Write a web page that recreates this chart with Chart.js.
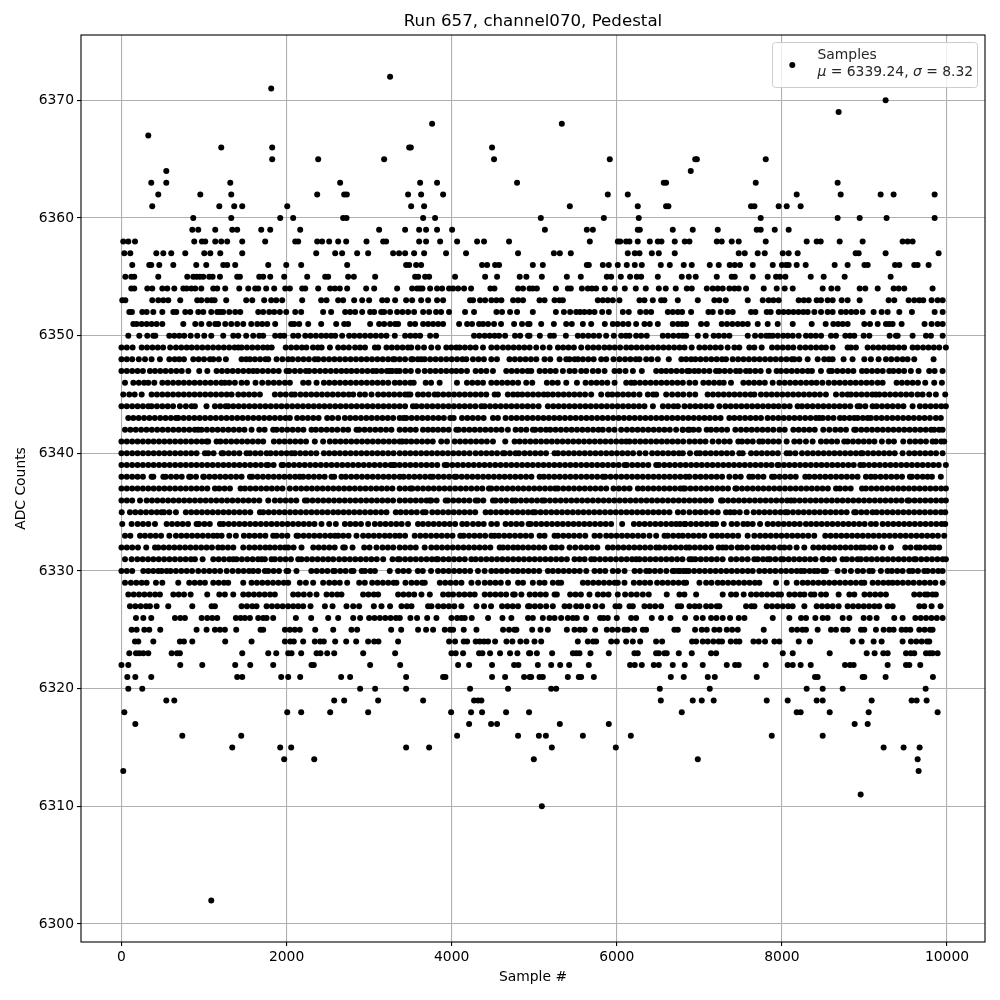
<!DOCTYPE html>
<html><head><meta charset="utf-8">
<style>html,body{margin:0;padding:0;background:#fff}canvas{display:block}</style>
<script src="https://cdn.jsdelivr.net/npm/chart.js@4"></script>
</head><body><canvas id="c" width="1000" height="1000"></canvas>
<script>
const xTicks=[0,2000,4000,6000,8000,10000];
const yTicks=[6300,6310,6320,6330,6340,6350,6360,6370];
const legendLines=["Samples","μ = 6339.24, σ = 8.32"];
const adc6372=[3254];
const adc6371=[1814];
const adc6370=[9256];
const adc6369=[8687];
const adc6368=[3763,5334];
const adc6367=[325];
const adc6366=[1209,1826,3485,3505,4489];
const adc6365=[1826,2383,3182,4513,5915,6950,6970,7804];
const adc6364=[543,6896];
const adc6363=[361,543,1318,2649,3618,3823,4792,6569,6597,7683,8675];
const adc6362=[446,955,1330,2371,2698,2730,3472,3630,3896,5891,6133,8179,8712,9196,9353,9850];
const adc6361=[373,1185,1366,1463,2008,3509,3666,5431,6254,6597,6625,7626,7667,7961,8058,8227];
const adc6360=[870,1330,1923,2080,2685,2726,3654,3799,5080,5843,6266,7743,8675,8942,9268,9850];
const adc6359=[858,930,1136,1342,1402,1693,1802,2165,3121,3436,3606,3690,3823,4005,5129,5637,5710,6254,6279,6678,6920,7223,7695,7743,7913,8082];
const adc6358=[22,83,164,882,975,1015,1136,1209,1281,1463,1741,2105,2141,2371,2431,2516,2625,2722,2968,3170,3206,3606,3690,3860,4066,4308,4392,4695,5673,6012,6041,6113,6153,6254,6400,6497,6541,6702,6823,6880,7211,7271,7392,7477,7804,8300,8421,8470,8700,8978,9462,9523,9583];
const adc6357=[35,107,422,507,603,773,1003,1076,1197,1463,2359,2589,2673,2855,2988,3291,3363,3436,3545,3666,3932,4174,4804,5238,5310,5443,6133,6218,6275,6424,6509,6702,7477,7550,7707,7792,8010,8082,8191,8893,8930,9256,9898];
const adc6356=[131,337,361,458,628,906,1027,1233,1281,1378,1778,1996,2177,2734,3448,3485,3569,3630,4368,4429,4526,4574,4983,5104,5637,5661,5831,5903,6012,6121,6218,6303,6533,6642,6811,6908,7126,7235,7368,7429,7493,7647,7889,8000,8050,8082,8179,8288,8639,8796,9000,9039,9370,9422,9603,9644,9777];
const adc6355=[47,119,155,446,797,870,910,950,991,1063,1104,1193,1402,1435,1669,1717,1802,1971,2250,2468,2504,2746,2815,3073,3557,3594,3678,3727,4041,4405,4550,4824,4905,5092,5395,5564,5879,5932,6049,6161,6242,6295,6497,6787,6872,6956,7211,7392,7429,7647,7828,7929,7977,8042,8349,8506,8760,9317];
const adc6354=[119,155,313,373,495,555,640,749,789,846,894,967,1112,1160,1257,1427,1536,1620,1657,1753,1850,1983,2040,2189,2226,2383,2528,2585,2645,2734,2964,3061,3339,3521,3581,3614,3646,3739,3823,3884,3968,4017,4078,4150,4235,4469,4518,4804,4864,4943,4983,5032,5262,5407,5443,5577,5649,5698,5750,5855,5976,6097,6230,6351,6509,6593,6714,6848,6908,7090,7162,7223,7283,7364,7425,7477,7566,7780,7937,8034,8131,8494,8599,8675,8942,9010,9160,9353,9414,9482,9825];
const adc6353=[10,47,373,446,507,567,712,918,967,1039,1092,1128,1269,1511,1584,1729,1814,1875,1947,2189,2419,2484,2625,2685,2819,2916,3000,3158,3218,3315,3448,3521,3630,3715,3823,3896,4223,4259,4344,4405,4481,4542,4602,4744,4804,4864,5064,5125,5246,5306,5347,5770,5831,5891,5952,6032,6275,6335,6436,6537,6577,6739,6981,7182,7243,7320,7586,7768,7840,7897,7961,8203,8265,8324,8421,8474,8554,8615,8724,8796,8942,9293,9361,9535,9603,9664,9712,9813,9886,9947];
const adc6352=[95,127,252,305,386,495,628,664,773,834,930,991,1088,1160,1197,1233,1306,1378,1439,1657,1717,1790,1850,1919,1996,2105,2177,2443,2540,2710,2770,2831,2916,3012,3061,3146,3182,3254,3339,3404,3472,3545,3654,3727,3811,3872,3968,4162,4271,4542,4610,4707,4792,4983,5262,5359,5435,5508,5556,5609,5669,5730,5823,5903,6073,6145,6283,6355,6416,6618,6678,6739,6791,6900,7110,7162,7259,7344,7404,7626,7679,7816,7864,7961,8020,8080,8140,8200,8260,8312,8393,8474,8554,8615,8716,8776,8840,8900,8978,9111,9208,9281,9422,9575,9850,9947];
const adc6351=[144,184,244,305,365,426,495,749,894,967,1063,1136,1172,1257,1330,1402,1475,1572,1645,1705,1766,1862,2056,2093,2153,2262,2419,2601,2698,2746,3012,3121,3182,3254,3315,3351,3497,3557,3654,3715,3775,3836,3896,4090,4187,4247,4332,4380,4441,4513,4598,4756,4852,4925,4943,5084,5238,5387,5455,5589,5690,5855,5952,6010,6075,6140,6234,6335,6400,6497,6678,6740,6790,6840,7021,7090,7271,7335,7400,7465,7525,7586,7707,7828,7949,8131,8361,8530,8623,8680,8736,8796,8998,9067,9160,9260,9300,9341,9450,9728,9813,9886,9947];
const adc6350=[83,216,313,386,410,579,640,700,760,838,918,1003,1088,1233,1354,1415,1511,1596,1669,1717,1862,1923,1971,2080,2141,2226,2290,2355,2420,2480,2540,2589,2673,2758,2820,2885,2950,3015,3080,3145,3210,3311,3436,3500,3560,3618,3739,3811,4271,4335,4400,4460,4520,4574,4647,4767,4830,4925,4943,5068,5193,5238,5383,5528,5590,5655,5720,5785,5871,5964,6053,6110,6153,6234,6295,6363,6557,6620,6685,6750,6800,6840,6981,7077,7174,7235,7300,7364,7586,7675,7747,7810,7848,7889,7950,8015,8070,8131,8203,8292,8350,8410,8474,8595,8655,8768,8825,8877,8990,9059,9305,9381,9402,9583,9745,9805,9947];
const adc6349=[0,65,135,245,310,375,440,505,590,660,725,790,850,915,980,1045,1110,1175,1240,1305,1370,1415,1455,1520,1585,1650,1715,1770,1820,1990,2055,2120,2185,2240,2320,2380,2425,2525,2625,2690,2755,2830,2890,2950,3070,3110,3210,3275,3340,3405,3470,3510,3590,3665,3753,3834,3935,3995,4056,4096,4160,4225,4290,4379,4480,4548,4621,4685,4750,4815,4880,4945,5024,5105,5186,5287,5350,5415,5480,5569,5650,5715,5780,5850,5912,5975,6040,6114,6175,6240,6305,6370,6435,6500,6565,6630,6695,6760,6820,6907,7000,7065,7130,7195,7260,7343,7424,7484,7605,7666,7755,7880,7945,8010,8075,8138,8219,8285,8350,8415,8480,8533,8614,8796,8836,8897,9038,9105,9170,9235,9300,9350,9415,9480,9583,9643,9710,9775,9840,9905,9986];
const adc6348=[0,65,130,210,285,365,466,580,645,700,757,870,935,1000,1072,1112,1180,1265,1455,1510,1556,1616,1680,1745,1778,1879,1950,2020,2072,2140,2205,2270,2342,2383,2450,2515,2580,2645,2710,2775,2840,2905,2970,3035,3100,3165,3230,3290,3310,3370,3435,3510,3530,3590,3632,3673,3740,3805,3870,3935,4000,4065,4130,4177,4258,4325,4390,4480,4548,4700,4765,4830,4895,4960,5025,5125,5194,5307,5388,5428,5490,5530,5590,5655,5720,5811,5872,5960,6033,6100,6165,6230,6275,6356,6420,6497,6630,6782,6840,6900,6952,7015,7080,7145,7210,7275,7323,7404,7470,7535,7600,7665,7730,7795,7860,7925,7990,8055,8120,8150,8210,8312,8433,8513,8570,8614,8747,8856,8998,9078,9171,9260,9325,9395,9462,9522,9603,9837];
const adc6347=[0,65,130,195,260,345,406,470,535,600,665,730,810,942,1040,1152,1217,1282,1347,1412,1477,1542,1596,1645,1710,1775,1840,1905,2000,2032,2100,2165,2234,2274,2340,2405,2470,2535,2600,2665,2726,2786,2850,2915,2980,3045,3089,3150,3215,3280,3370,3249,3330,3440,3505,3592,3673,3740,3805,3870,3935,4000,4056,4116,4185,4290,4355,4420,4500,4661,4726,4791,4856,4921,4964,5065,5130,5195,5260,5347,5428,5490,5569,5630,5710,5775,5852,5972,6033,6106,6195,6303,6477,6540,6598,6659,6724,6789,6854,6880,6940,6992,7057,7122,7202,7242,7307,7372,7444,7492,7565,7613,7678,7743,7840,7936,7989,8054,8119,8184,8249,8314,8364,8473,8574,8606,8671,8736,8801,8866,8970,9026,9091,9156,9221,9300,9350,9415,9480,9562,9655,9784,9850,9946];
const adc6346=[43,144,210,275,325,398,495,560,625,690,755,820,885,950,1015,1080,1145,1210,1253,1306,1374,1455,1520,1624,1705,1778,1845,1910,1980,2040,2201,2266,2363,2452,2517,2582,2647,2712,2777,2842,2907,2972,3037,3102,3167,3232,3311,3370,3435,3500,3540,3685,3750,3854,4064,4185,4250,4315,4379,4480,4545,4610,4675,4740,4805,4903,4976,5153,5220,5285,5388,5517,5622,5690,5755,5820,5885,5973,6114,6174,6215,6280,6345,6410,6475,6540,6605,6670,6735,6800,6880,6950,7048,7113,7178,7243,7295,7383,7533,7598,7663,7728,7793,7888,7969,8034,8099,8164,8229,8294,8359,8420,8490,8566,8634,8699,8764,8829,8894,8959,9024,9089,9160,9220,9389,9453,9518,9583,9648,9736,9845,9938];
const adc6345=[22,95,160,245,365,430,495,560,625,690,755,820,885,950,1015,1080,1145,1210,1275,1334,1415,1480,1545,1610,1677,1858,1925,1990,2060,2100,2169,2234,2299,2364,2429,2494,2559,2624,2689,2754,2807,2887,2950,3029,3109,3174,3239,3304,3370,3435,3470,3500,3592,3653,3720,3794,3834,3899,3964,4029,4094,4159,4224,4289,4354,4419,4520,4560,4680,4745,4800,4855,4920,4985,5050,5115,5165,5226,5291,5356,5421,5486,5551,5616,5690,5811,5892,5945,6010,6075,6140,6205,6275,6376,6440,6477,6598,6670,6740,6805,6880,6950,7100,7165,7230,7295,7360,7425,7490,7555,7620,7666,7746,7811,7876,7941,8006,8071,8136,8201,8266,8331,8396,8461,8533,8655,8730,8796,8836,8900,8965,9030,9095,9138,9180,9245,9310,9375,9440,9505,9570,9643,9704,9784,9865,9978];
const adc6344=[0,65,130,195,260,325,365,430,495,560,625,708,780,850,890,1030,1132,1197,1262,1293,1354,1419,1484,1549,1614,1679,1744,1809,1874,1939,2004,2069,2134,2199,2264,2329,2394,2459,2524,2589,2654,2719,2784,2849,2914,2979,3044,3109,3174,3239,3304,3370,3435,3531,3572,3637,3702,3767,3832,3897,3962,4027,4092,4157,4222,4287,4359,4399,4464,4529,4594,4659,4724,4789,4854,4919,4984,5053,5165,5230,5295,5360,5425,5490,5555,5620,5685,5750,5815,5880,5945,6010,6075,6140,6205,6270,6335,6437,6558,6623,6688,6740,6820,6887,6952,7017,7082,7147,7242,7315,7380,7445,7510,7575,7640,7705,7770,7835,7900,7960,8029,8094,8190,8243,8308,8373,8438,8503,8568,8633,8698,8763,8828,8917,8945,9010,9098,9147,9212,9277,9342,9407,9472,9583,9671,9736,9801,9866,9931,9986];
const adc6343=[83,144,209,274,339,404,469,534,599,660,688,753,818,883,948,1013,1078,1143,1208,1273,1338,1403,1468,1533,1598,1663,1728,1793,1858,1923,1988,2040,2128,2193,2258,2323,2388,2492,2553,2625,2706,2771,2836,2901,2966,3031,3096,3161,3226,3291,3370,3418,3450,3515,3580,3645,3710,3775,3840,3905,3983,4024,4125,4190,4255,4320,4387,4500,4560,4653,4722,4787,4852,4917,4982,5047,5112,5177,5242,5307,5372,5437,5502,5567,5632,5697,5762,5827,5892,5957,6022,6087,6152,6217,6282,6347,6412,6477,6542,6607,6672,6737,6802,6867,6932,6997,7062,7127,7192,7257,7363,7424,7489,7554,7619,7684,7746,7827,7892,7957,8022,8087,8152,8217,8282,8347,8412,8453,8495,8560,8625,8703,8755,8820,8876,8917,8980,9038,9078,9143,9208,9273,9338,9403,9468,9533,9598,9663,9728,9793,9865,9925];
const adc6342=[43,108,173,238,303,368,433,498,563,628,693,758,823,888,930,970,1035,1100,1165,1230,1295,1360,1425,1490,1576,1669,1734,1838,1879,1944,2009,2074,2139,2204,2302,2355,2420,2485,2550,2615,2686,2746,2847,2880,2945,3010,3075,3140,3205,3270,3370,3435,3500,3565,3652,3713,3774,3834,3899,3964,4056,4084,4149,4214,4279,4344,4409,4474,4539,4604,4681,4774,4839,4904,4984,5012,5077,5142,5194,5258,5323,5388,5453,5518,5583,5648,5713,5778,5831,5904,5972,6053,6122,6187,6252,6317,6382,6447,6512,6577,6642,6719,6800,6880,6798,6863,6928,6993,7089,7141,7206,7271,7336,7436,7504,7569,7634,7699,7764,7829,7896,7969,8034,8138,8203,8268,8333,8398,8501,8574,8646,8711,8776,8876,8897,8962,9027,9092,9157,9222,9287,9352,9417,9482,9547,9612,9677,9742,9807,9845,9905,9946];
const adc6341=[0,65,130,195,260,325,390,455,520,585,650,715,780,845,910,975,1031,1051,1152,1200,1265,1330,1395,1460,1525,1590,1655,1717,1846,1911,1976,2041,2106,2171,2236,2342,2443,2524,2589,2654,2719,2784,2849,2914,2979,3044,3109,3174,3239,3304,3370,3402,3450,3511,3576,3641,3706,3771,3874,3943,4036,4101,4166,4231,4296,4361,4426,4500,4649,4762,4823,4888,4953,5018,5083,5148,5213,5278,5343,5408,5473,5538,5603,5668,5733,5798,5863,5928,5993,6058,6114,6154,6219,6284,6349,6414,6479,6544,6609,6674,6739,6804,6880,6945,7010,7075,7161,7234,7303,7368,7472,7517,7582,7647,7726,7767,7832,7897,7962,8057,8150,8215,8291,8372,8473,8538,8603,8668,8755,8796,8861,8926,8991,9056,9121,9211,9292,9357,9470,9550,9615,9680,9745,9825,9865,9930,9966];
const adc6340=[0,65,130,195,260,325,390,455,520,585,650,715,780,845,910,1011,1051,1116,1213,1233,1298,1363,1428,1515,1556,1621,1686,1758,1806,1871,1936,2001,2060,2100,2165,2230,2295,2360,2452,2516,2581,2646,2711,2776,2841,2906,2971,3036,3101,3166,3231,3296,3370,3435,3500,3565,3630,3695,3760,3825,3890,3955,4020,4085,4150,4217,4290,4355,4420,4485,4550,4621,4641,4706,4774,4815,4883,4948,5013,5078,5143,5246,5287,5352,5417,5482,5547,5612,5677,5742,5807,5872,5937,6002,6067,6132,6197,6275,6348,6428,6493,6558,6623,6688,6753,6800,6887,6968,7008,7073,7138,7203,7268,7333,7398,7484,7525,7626,7691,7756,7821,7886,7951,8057,8098,8163,8243,8311,8376,8441,8506,8571,8636,8701,8766,8831,8896,8957,8977,9042,9107,9172,9237,9302,9367,9462,9542,9607,9672,9737,9802,9867,9946];
const adc6339=[0,65,130,195,260,325,390,455,520,585,650,715,780,845,910,975,1040,1105,1170,1235,1300,1365,1430,1495,1560,1625,1690,1758,1778,1843,1940,1960,2025,2090,2155,2220,2285,2350,2415,2480,2545,2610,2675,2740,2805,2870,2935,3000,3065,3130,3195,3260,3290,3311,3370,3435,3500,3565,3630,3695,3760,3825,3915,3943,4008,4073,4138,4203,4268,4333,4398,4463,4528,4593,4658,4723,4788,4853,4918,4983,5048,5113,5178,5243,5308,5373,5438,5503,5568,5633,5698,5763,5828,5893,5958,6023,6094,6122,6187,6252,6317,6382,6477,6510,6575,6640,6705,6770,6835,6900,6965,7030,7095,7160,7225,7290,7355,7420,7485,7550,7615,7680,7745,7810,7875,7948,7960,8025,8090,8155,8220,8285,8350,8415,8480,8545,8610,8675,8740,8805,8870,8949,8990,9055,9120,9185,9250,9315,9380,9445,9510,9575,9640,9705,9770,9835,9900,9986];
const adc6338=[0,65,130,195,260,365,386,507,535,600,665,730,820,838,903,990,1000,1065,1130,1195,1260,1325,1390,1455,1556,1584,1649,1714,1779,1844,1909,1974,2039,2104,2160,2201,2266,2331,2396,2461,2544,2577,2665,2718,2783,2848,2913,2978,3043,3108,3173,3238,3303,3370,3418,3483,3548,3613,3678,3741,3774,3839,3904,3969,4036,4056,4121,4186,4251,4316,4381,4446,4511,4576,4641,4706,4771,4836,4901,4966,5065,5117,5178,5243,5308,5373,5438,5503,5568,5633,5698,5763,5831,5860,5925,5990,6055,6120,6185,6250,6315,6380,6445,6510,6575,6640,6705,6770,6835,6880,6950,7015,7080,7145,7210,7275,7363,7436,7501,7605,7646,7711,7776,7880,7908,7973,8038,8103,8168,8283,8331,8396,8461,8526,8591,8656,8721,8786,8851,8916,9018,9078,9130,9195,9260,9325,9390,9455,9550,9575,9640,9705,9764,9817,9925];
const adc6337=[0,65,130,195,260,325,390,455,520,585,650,715,780,845,910,975,1040,1132,1184,1249,1314,1443,1496,1561,1626,1691,1756,1821,1886,1951,2040,2112,2177,2242,2307,2372,2437,2502,2567,2632,2697,2762,2827,2892,2957,3022,3087,3152,3217,3282,3370,3435,3499,3523,3588,3653,3718,3783,3848,3913,3978,4043,4108,4173,4238,4306,4371,4451,4480,4545,4610,4675,4740,4805,4870,4935,5000,5065,5130,5195,5254,5287,5352,5417,5482,5547,5612,5677,5742,5807,5872,5960,6025,6090,6155,6255,6315,6380,6445,6510,6575,6640,6705,6770,6806,6827,6892,6957,7022,7087,7152,7217,7282,7347,7436,7452,7517,7582,7647,7712,7777,7842,7907,7972,8037,8102,8167,8232,8297,8362,8427,8492,8557,8655,8703,8768,8833,8970,9018,9083,9148,9213,9278,9343,9408,9473,9538,9603,9668,9733,9798,9863,9928,9986];
const adc6336=[0,65,130,225,305,370,435,500,565,630,695,760,825,890,955,1020,1085,1150,1215,1280,1345,1410,1475,1540,1605,1670,1778,1858,1923,1988,2053,2118,2222,2250,2315,2380,2445,2510,2575,2640,2705,2770,2835,2900,2965,3030,3095,3160,3225,3290,3370,3435,3500,3565,3630,3695,3733,3753,3818,3927,3955,4020,4085,4150,4215,4290,4318,4383,4500,4532,4597,4662,4734,4774,4839,4904,4969,5034,5097,5125,5190,5255,5320,5385,5450,5515,5580,5645,5710,5775,5840,5905,5970,6035,6100,6165,6230,6295,6360,6425,6490,6555,6620,6685,6750,6815,6880,6945,7010,7075,7140,7262,7283,7348,7413,7478,7543,7608,7673,7738,7803,7868,7933,7998,8063,8110,8150,8215,8280,8345,8410,8475,8540,8605,8670,8735,8800,8865,8930,8995,9060,9125,9190,9255,9320,9385,9450,9522,9542,9607,9672,9737,9802,9867,9932,9986];
const adc6335=[3,103,168,233,298,363,428,486,515,580,660,780,845,910,975,1040,1105,1170,1235,1300,1365,1430,1495,1560,1677,1717,1782,1847,1912,1977,2042,2107,2172,2237,2302,2367,2432,2497,2565,2625,2690,2755,2820,2885,2950,3015,3080,3145,3210,3323,3382,3447,3512,3577,3652,3685,3765,3830,3895,3960,4025,4090,4155,4220,4285,4411,4472,4537,4602,4667,4732,4797,4862,4927,4984,5012,5077,5142,5207,5272,5337,5402,5467,5532,5597,5662,5727,5792,5857,5922,5987,6052,6117,6182,6247,6312,6377,6442,6507,6572,6638,6740,6805,6880,6950,7015,7080,7153,7222,7323,7375,7424,7489,7573,7658,7723,7788,7853,7918,7983,8041,8069,8134,8199,8264,8329,8394,8459,8524,8589,8654,8719,8784,8876,8897,8962,9027,9098,9147,9212,9277,9342,9407,9472,9537,9602,9667,9732,9797,9862,9927,9978];
const adc6334=[10,123,196,261,326,406,547,612,677,742,807,910,940,1005,1070,1193,1233,1298,1363,1428,1493,1558,1623,1688,1753,1818,1883,1948,2013,2078,2143,2208,2273,2338,2423,2516,2597,2706,2771,2836,2901,2988,3069,3134,3199,3264,3329,3394,3471,3592,3652,3717,3782,3847,3912,3977,4042,4128,4185,4258,4323,4388,4480,4548,4653,4718,4783,4848,4932,4956,5021,5086,5151,5216,5281,5346,5411,5476,5541,5606,5671,5736,5801,5866,5931,6065,6207,6272,6337,6402,6467,6532,6597,6662,6719,6820,6766,6831,6896,6961,7026,7091,7156,7202,7295,7391,7456,7533,7585,7646,7735,7827,7892,7957,8022,8087,8152,8217,8291,8352,8417,8482,8547,8612,8677,8742,8807,8872,8937,9002,9078,9138,9220,9285,9350,9415,9480,9545,9610,9675,9740,9805,9870,9935,9978];
const adc6333=[43,108,225,285,350,415,480,580,660,725,790,855,920,985,1050,1112,1160,1213,1306,1386,1483,1548,1613,1678,1743,1838,1879,1944,2009,2121,2141,2206,2271,2336,2401,2466,2531,2585,2625,2686,2751,2847,2927,2992,3057,3122,3190,3250,3315,3370,3435,3552,3620,3685,3750,3815,3880,3945,4010,4104,4145,4210,4275,4340,4405,4480,4520,4572,4637,4702,4767,4832,4897,4962,5065,5125,5246,5287,5352,5417,5482,5549,5618,5730,5795,5872,5932,5997,6062,6127,6192,6257,6322,6396,6477,6578,6618,6683,6748,6800,6865,6930,6995,7060,7153,7214,7275,7340,7405,7470,7585,7666,7735,7800,7865,7930,7995,8060,8125,8190,8255,8320,8392,8525,8590,8655,8720,8785,8850,8915,8980,9045,9110,9175,9240,9305,9370,9435,9500,9565,9630,9695,9760,9825,9890,9966];
const adc6332=[0,65,130,200,300,406,446,511,576,641,706,771,836,901,966,1031,1096,1172,1225,1290,1355,1475,1548,1613,1678,1743,1798,1858,1923,1980,2020,2085,2181,2323,2388,2453,2518,2583,2686,2706,2799,2940,3005,3089,3162,3227,3292,3370,3435,3500,3565,3673,3753,3818,3883,3948,4013,4078,4143,4208,4273,4338,4403,4468,4581,4621,4681,4746,4802,4863,4928,4993,5058,5123,5214,5266,5331,5428,5497,5569,5634,5699,5764,5892,5952,6017,6082,6147,6212,6277,6342,6407,6477,6517,6582,6647,6712,6777,6842,6880,6945,7010,7075,7140,7234,7283,7323,7388,7464,7513,7578,7654,7706,7771,7836,7901,7977,8029,8094,8178,8271,8380,8445,8510,8575,8640,8705,8770,8835,8900,8957,8998,9063,9128,9220,9320,9494,9559,9631,9671,9736,9801,9845,9905];
const adc6331=[43,123,192,257,322,387,452,517,582,647,712,777,842,890,983,1112,1177,1242,1307,1354,1394,1459,1524,1589,1654,1697,1737,1818,1858,1923,1988,2053,2141,2181,2246,2311,2376,2441,2504,2565,2637,2702,2767,2832,2897,2962,3027,3092,3170,3283,3348,3370,3435,3500,3565,3630,3695,3760,3814,3834,3899,3964,4029,4094,4159,4238,4290,4355,4420,4485,4550,4615,4680,4745,4810,4875,4940,5005,5070,5135,5200,5265,5330,5395,5488,5549,5610,5690,5730,5795,5860,5925,5990,6055,6120,6185,6235,6275,6340,6405,6470,6535,6600,6665,6730,6795,6880,6911,6952,7017,7082,7147,7212,7282,7383,7448,7517,7585,7666,7706,7771,7827,7856,7921,7989,8017,8082,8147,8212,8277,8342,8407,8493,8501,8566,8631,8735,8784,8849,8917,8957,9022,9087,9152,9217,9282,9347,9412,9477,9542,9603,9623,9688,9753,9818,9883,9948,9986];
const adc6330=[0,65,130,265,325,386,446,487,547,595,660,725,790,855,930,1000,1065,1130,1195,1275,1346,1415,1480,1545,1596,1657,1737,1778,1843,1908,2000,2020,2120,2300,2365,2430,2495,2565,2585,2650,2715,2785,2810,2910,2950,3015,3070,3250,3350,3415,3480,3590,3650,3750,3834,3899,3964,4029,4094,4159,4224,4318,4399,4480,4540,4605,4670,4742,4800,4865,4930,4995,5060,5165,5226,5291,5356,5421,5486,5551,5630,5730,5795,5860,5952,6015,6094,6215,6280,6356,6396,6461,6526,6600,6700,6765,6840,6677,6742,6807,6872,6937,7002,7067,7132,7197,7262,7327,7392,7457,7522,7587,7646,7726,7791,7856,7921,7989,8050,8115,8180,8231,8271,8336,8392,8433,8498,8533,8675,8755,8836,8917,8982,9058,9098,9199,9280,9332,9397,9462,9542,9583,9648,9724,9764,9829,9894,9946];
const adc6329=[43,115,180,245,305,418,495,688,821,886,951,1011,1112,1177,1242,1293,1475,1576,1641,1706,1771,1836,1901,1966,2020,2161,2234,2322,2443,2516,2581,2645,2734,2880,2948,3037,3102,3167,3232,3297,3331,3440,3513,3578,3643,3674,3856,3921,3986,4051,4118,4239,4320,4400,4465,4530,4595,4683,4804,4864,4983,5064,5125,5225,5290,5326,5589,5649,5714,5779,5844,5909,5974,6012,6093,6206,6275,6340,6404,6488,6553,6618,6683,6748,6813,6840,7001,7082,7147,7223,7283,7348,7413,7478,7543,7608,7673,7727,7929,8058,8179,8252,8312,8377,8442,8507,8572,8637,8702,8767,8832,8897,8962,8998,9099,9164,9229,9290,9341,9400,9465,9530,9595,9664,9729,9794,9859,9947];
const adc6328=[83,148,213,278,343,408,466,628,693,758,838,1039,1185,1253,1354,1475,1540,1605,1670,1735,1800,1858,2080,2141,2209,2282,2363,2484,2549,2614,2665,2927,2992,3057,3109,3351,3416,3481,3546,3634,3735,3896,3961,4017,4090,4155,4220,4279,4400,4465,4530,4595,4660,4744,4764,4844,4945,5010,5075,5140,5246,5274,5435,5500,5565,5669,5770,5835,5900,6012,6101,6174,6242,6315,6387,6605,6759,6819,6961,7283,7384,7445,7537,7626,7691,7756,7821,7886,7951,7989,8090,8155,8220,8272,8352,8393,8474,8534,8687,8817,8877,9000,9065,9130,9195,9260,9603,9668,9733,9765,9825,9865];
const adc6327=[103,168,233,298,345,426,567,858,1092,1132,1455,1520,1585,1636,1758,1823,1888,1953,2018,2080,2141,2201,2290,2464,2557,2726,2807,2879,3057,3150,3254,3392,3457,3513,3714,3755,3836,3901,3966,4031,4118,4300,4392,4477,4610,4675,4740,4804,4925,4943,5008,5073,5145,5225,5367,5427,5508,5568,5649,5742,5823,5984,6032,6154,6194,6335,6400,6465,6537,6739,6779,6880,6945,7001,7082,7142,7211,7243,7566,7631,7667,7816,7881,7946,8011,8076,8130,8272,8421,8486,8551,8615,8687,8796,8861,8926,8991,9056,9121,9180,9281,9341,9664,9724,9813,9922];
const adc6326=[176,265,361,648,713,769,971,1039,1100,1160,1386,1443,1495,1556,1657,1717,1758,1838,2113,2298,2504,2625,2807,2891,3000,3065,3130,3195,3260,3325,3372,3500,3581,3703,3815,3997,4066,4118,4158,4243,4441,4615,4723,4925,4983,5104,5185,5246,5326,5407,5468,5516,5629,5798,5839,5891,6000,6174,6234,6424,6537,6650,6827,6961,7041,7142,7207,7283,7372,7477,7546,7889,8090,8232,8292,8405,8494,8554,8736,8817,8990,9063,9147,9361,9462,9616,9681,9746,9811,9876,9947];
const adc6325=[123,184,277,337,470,910,1031,1132,1193,1253,1390,1685,1717,1980,2040,2100,2161,2347,2565,2786,2855,3267,3388,3593,3690,3775,3916,3981,4017,4146,4300,4622,4695,4760,4784,4975,5076,5165,5395,5488,5553,5609,5738,5879,5944,6012,6093,6133,6210,6315,6355,6698,6739,6948,7029,7090,7182,7243,7332,7397,7465,7780,8119,8184,8249,8292,8433,8595,8655,8744,8796,8958,8998,9139,9232,9301,9353,9450,9503,9555,9664,9729,9794,9825];
const adc6324=[164,204,386,708,757,858,1257,1576,1980,2045,2088,2201,2342,2407,2451,2589,2722,2843,2988,3061,3113,3351,3969,4041,4146,4187,4291,4340,4392,4441,4526,4663,4735,4832,4905,5003,5084,5528,5649,5714,5750,5932,6000,6113,6194,6283,6476,6549,6912,6961,7041,7102,7170,7235,7275,7380,7445,7485,7655,7719,7796,7909,7969,8204,8340,8857,8966,9111,9208,9462,9563,9628,9693,9758,9785];
const adc6323=[95,176,216,265,325,608,673,708,1463,1778,1875,2020,2060,2177,2363,2411,2492,2577,2928,3315,3997,4049,4138,4332,4372,4465,4586,4707,4796,4937,4951,5032,5217,5468,5510,5548,5681,5903,6214,6254,6476,6509,6577,6605,6751,6908,7142,7203,8010,8131,8579,9027,9123,9228,9281,9503,9560,9603,9745,9790,9825,9886];
const adc6322=[0,83,712,979,1378,1560,1838,2302,2330,3012,3376,4078,4211,4489,4756,4808,5044,5205,5314,5423,5661,6161,6218,6303,6448,6509,6678,6823,7041,7332,7433,7477,7804,8070,8131,8227,8349,8764,8825,8869,9281,9503,9543,9676];
const adc6321=[71,168,361,1402,1463,1935,2020,2165,2661,2770,3448,3896,3924,4489,4647,4877,4945,4963,5064,5104,5407,5540,5568,5722,6654,6811,7102,7187,7695,8401,8433,8978,8998,9256,9829];
const adc6320=[83,252,2891,3073,3448,4223,4683,5205,5266,6521,7126,8300,8494,8736,9741];
const adc6319=[543,640,2577,2698,3109,3654,4271,4320,4360,6533,6920,7029,7174,7816,8070,8421,8494,9087,9571,9632,9753];
const adc6318=[35,2008,2177,2528,2988,3993,4235,4368,4659,4937,6787,8179,8227,8579,9051,9886];
const adc6317=[168,4211,4477,4550,5310,5903,8881,9039];
const adc6316=[737,1451,4066,4804,5056,5141,5589,6170,7877,8494];
const adc6315=[1342,1923,2056,3448,3727,5213,5988,9232,9474,9668];
const adc6314=[1971,2335,4995,6981,9644];
const adc6313=[22,9656];
const adc6311=[8954];
const adc6310=[5092];
const adc6302=[1088];
const rows=[[6372,adc6372],[6371,adc6371],[6370,adc6370],[6369,adc6369],[6368,adc6368],[6367,adc6367],[6366,adc6366],[6365,adc6365],[6364,adc6364],[6363,adc6363],[6362,adc6362],[6361,adc6361],[6360,adc6360],[6359,adc6359],[6358,adc6358],[6357,adc6357],[6356,adc6356],[6355,adc6355],[6354,adc6354],[6353,adc6353],[6352,adc6352],[6351,adc6351],[6350,adc6350],[6349,adc6349],[6348,adc6348],[6347,adc6347],[6346,adc6346],[6345,adc6345],[6344,adc6344],[6343,adc6343],[6342,adc6342],[6341,adc6341],[6340,adc6340],[6339,adc6339],[6338,adc6338],[6337,adc6337],[6336,adc6336],[6335,adc6335],[6334,adc6334],[6333,adc6333],[6332,adc6332],[6331,adc6331],[6330,adc6330],[6329,adc6329],[6328,adc6328],[6327,adc6327],[6326,adc6326],[6325,adc6325],[6324,adc6324],[6323,adc6323],[6322,adc6322],[6321,adc6321],[6320,adc6320],[6319,adc6319],[6318,adc6318],[6317,adc6317],[6316,adc6316],[6315,adc6315],[6314,adc6314],[6313,adc6313],[6311,adc6311],[6310,adc6310],[6302,adc6302]];
const points=rows.flatMap(([y,xs])=>xs.map(x=>({x,y})));
const FONT='"DejaVu Sans"';
const frame={id:'frame',afterDraw(ch){
  const c=ch.ctx,a=ch.chartArea;
  c.save();
  c.strokeStyle='#000';c.lineWidth=1.1;
  c.strokeRect(a.left,a.top,a.right-a.left,a.bottom-a.top);
  const bx=772.5,by=42.5,bw=205,bh=45;
  c.beginPath();c.roundRect(bx,by,bw,bh,3);
  c.fillStyle='rgba(255,255,255,0.8)';c.fill();
  c.strokeStyle='#ccc';c.lineWidth=1;c.stroke();
  c.fillStyle='#000';
  c.beginPath();c.arc(792.3,65,3,0,Math.PI*2);c.fill();
  c.fillStyle='#262626';c.textBaseline='alphabetic';c.textAlign='left';
  c.font='13.89px '+FONT;
  c.fillText(legendLines[0],817.5,59);
  let x=817.5;const y=76;
  for(const ch1 of legendLines[1]){
    c.font=(ch1==='μ'||ch1==='σ'?'italic ':'')+'13.89px '+FONT;
    c.fillText(ch1,x,y);x+=c.measureText(ch1).width;
  }
  c.restore();
}};
new Chart(document.getElementById('c'),{
  type:'scatter',
  data:{datasets:[{label:legendLines[0],data:points,pointRadius:3,pointHoverRadius:3,pointBorderWidth:0,backgroundColor:'#000',borderColor:'#000',clip:false}]},
  options:{
    responsive:false,animation:false,devicePixelRatio:1,
    layout:{padding:{left:0,right:15,top:0,bottom:0}},
    plugins:{
      legend:{display:false},tooltip:{enabled:false},
      title:{display:true,text:'Run 657, channel070, Pedestal',fullSize:false,color:'#000',
        font:{family:FONT,size:16.67,weight:'normal',lineHeight:1.2},padding:{top:12,bottom:3}}
    },
    scales:{
      x:{type:'linear',min:-490,max:10460,
        afterBuildTicks:s=>{s.ticks=xTicks.map(v=>({value:v}))},
        afterFit:s=>{s.height=58},
        grid:{color:'#b0b0b0',lineWidth:1.1,tickColor:'#000',tickLength:4,tickWidth:1.1,drawTicks:true},
        border:{display:false},
        ticks:{color:'#000',font:{family:FONT,size:13.89},padding:3,maxRotation:0,callback:v=>String(v)},
        title:{display:true,text:'Sample #',color:'#000',font:{family:FONT,size:13.89,lineHeight:1.2},padding:{top:0,bottom:14.5}}},
      y:{type:'linear',min:6298.47,max:6375.55,
        afterBuildTicks:s=>{s.ticks=yTicks.map(v=>({value:v}))},
        afterFit:s=>{s.width=81},
        grid:{color:'#b0b0b0',lineWidth:1.1,tickColor:'#000',tickLength:4,tickWidth:1.1,drawTicks:true},
        border:{display:false},
        ticks:{color:'#000',font:{family:FONT,size:13.89},padding:3,callback:v=>String(v)},
        title:{display:true,text:'ADC Counts',color:'#000',font:{family:FONT,size:13.89,lineHeight:1.2},padding:{top:13,bottom:0}}}
    }
  },
  plugins:[frame]
});
</script></body></html>
